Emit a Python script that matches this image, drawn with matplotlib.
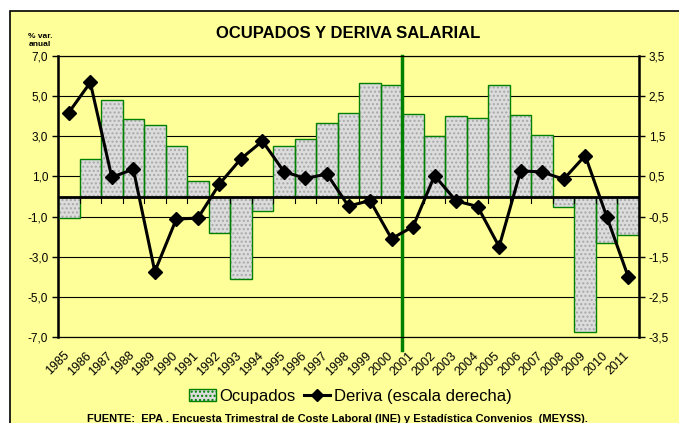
import numpy as np
import matplotlib.pyplot as plt
from matplotlib.patches import Rectangle, Patch
from matplotlib.lines import Line2D
from matplotlib.transforms import ScaledTranslation

plt.rcParams['font.family'] = ['Liberation Sans', 'DejaVu Sans']

years = [str(y) for y in range(1985, 2012)]

# variacion anual de ocupados (escala izquierda)
ocupados = [-1.05, 1.85, 4.8, 3.85, 3.55, 2.5, 0.75, -1.8, -4.1, -0.7,
            2.5, 2.85, 3.65, 4.15, 5.65, 5.55, 4.1, 3.0, 4.0, 3.9,
            5.55, 4.05, 3.05, -0.5, -6.75, -2.3, -1.9]

# deriva salarial (escala derecha)
deriva = [2.09, 2.84, 0.48, 0.68, -1.87, -0.56, -0.54, 0.31, 0.94, 1.38,
          0.62, 0.45, 0.56, -0.24, -0.10, -1.05, -0.75, 0.52, -0.11, -0.25,
          -1.25, 0.64, 0.61, 0.43, 1.02, -0.50, -2.0]

left_ticks = [7, 5, 3, 1, -1, -3, -5, -7]
right_ticks = [3.5, 2.5, 1.5, 0.5, -0.5, -1.5, -2.5, -3.5]

yellow = '#FFFF99'
green = '#008000'
bar_fill = '#DCDCDC'
dot_color = '#A8A8A8'

fig = plt.figure(figsize=(6.79, 4.23), dpi=100, facecolor='white')
fig.patches.append(Rectangle((10 / 679, -0.1), 1.0, 1 - 11 / 423 + 0.1,
                             transform=fig.transFigure, facecolor=yellow,
                             edgecolor='black', linewidth=1.2, zorder=-10))

ax = fig.add_axes([58 / 679, 1 - 337 / 423, 581 / 679, 281 / 423])
ax.set_facecolor(yellow)

x = np.arange(len(years))

# bars: dotted fill, then green outline
ax.bar(x, ocupados, width=1.0, color=bar_fill, hatch='....',
       edgecolor=dot_color, linewidth=0, zorder=2)
ax.bar(x, ocupados, width=1.0, fill=False, edgecolor=green,
       linewidth=1.0, zorder=3)

ax.set_xlim(-0.5, len(years) - 0.5)
ax.set_ylim(-7, 7)
ax.set_yticks(left_ticks)
ax.set_yticklabels([f'{v:.1f}'.replace('.', ',') for v in left_ticks],
                   fontsize=8.5)
for v in left_ticks:
    ax.axhline(v, color='black', linewidth=0.8, zorder=1)
ax.axhline(0, color='black', linewidth=2.0, zorder=4)

# category ticks on the zero line
for b in np.arange(len(years) + 1) - 0.5:
    ax.plot([b, b], [0, -0.3], color='black', linewidth=0.8, zorder=4)

ax.axvline(15.5, ymin=-0.048, ymax=1, color=green, linewidth=2.5,
           clip_on=False, zorder=6)

ax.set_xticks(x)
ax.set_xticklabels(years, rotation=45, ha='right', rotation_mode='anchor',
                   fontsize=9)
ax.tick_params(axis='x', length=0, pad=9)
shift = ScaledTranslation(-5 / 100, 0, fig.dpi_scale_trans)
for lbl in ax.get_xticklabels():
    lbl.set_transform(lbl.get_transform() + shift)
ax.tick_params(axis='y', length=4, width=1, pad=3)
for s in ['top', 'bottom', 'right']:
    ax.spines[s].set_linewidth(0.8)
ax.spines['left'].set_linewidth(1.8)

ax2 = ax.twinx()
ax2.plot(x, deriva, color='black', linewidth=2.2, marker='D',
         markersize=7, zorder=5)
ax2.set_ylim(-3.5, 3.5)
ax2.set_yticks(right_ticks)
ax2.set_yticklabels([f'{v:.1f}'.replace('.', ',') for v in right_ticks],
                    fontsize=8.5)
ax2.tick_params(axis='y', length=4, width=1, pad=3)
ax2.spines['right'].set_linewidth(1.8)

fig.text(348 / 679, 1 - 33 / 423, 'OCUPADOS Y DERIVA SALARIAL',
         ha='center', va='center', fontsize=12, fontweight='bold')
fig.text(40 / 679, 1 - 41 / 423, '% var.\nanual', ha='center',
         va='center', fontsize=6, fontweight='bold', linespacing=1.2)

handles = [Patch(facecolor=bar_fill, edgecolor=green, hatch='....'),
           Line2D([], [], color='black', linewidth=2.2, marker='D',
                  markersize=6)]
fig.legend(handles, ['Ocupados', 'Deriva (escala derecha)'], ncol=2,
           loc='center', bbox_to_anchor=(0.516, 1 - 396 / 423),
           frameon=False, fontsize=12, handlelength=1.6,
           handletextpad=0.2, columnspacing=0.5)

fig.text(0.497, 1 - 419 / 423,
         'FUENTE:  EPA . Encuesta Trimestral de Coste Laboral (INE) y '
         'Estadística Convenios  (MEYSS).',
         ha='center', va='center', fontsize=8, fontweight='bold')

fig.savefig('out.png', dpi=100, facecolor='white')
